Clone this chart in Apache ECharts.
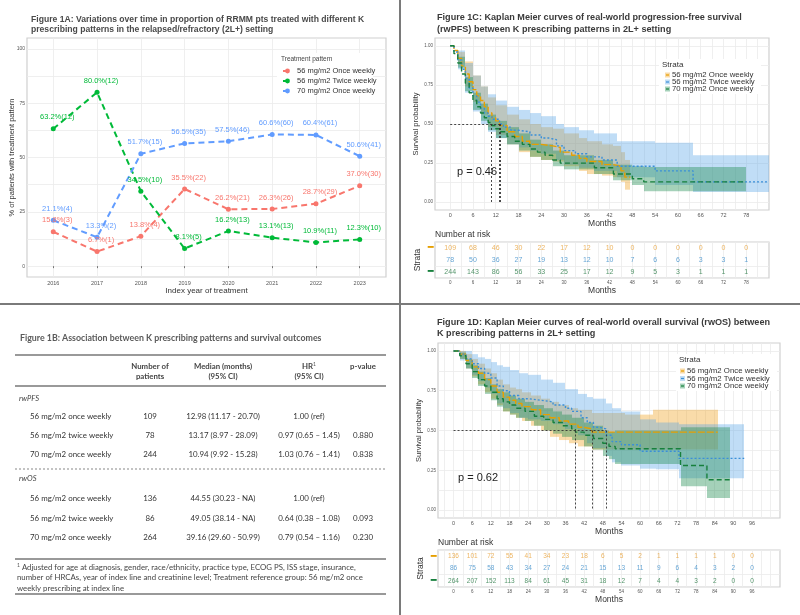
<!DOCTYPE html>
<html>
<head>
<meta charset="utf-8">
<script src="https://cdn.jsdelivr.net/npm/echarts@6/dist/echarts.min.js"></script>
<style>
  html, body { margin: 0; padding: 0; background: #fff; }
  #chart { width: 800px; height: 615px; }
</style>
</head>
<body>
<div id="chart"></div>
<script>
// ---------- Figure 1A data ----------
var years = [2016, 2017, 2018, 2019, 2020, 2021, 2022, 2023];
var pctTicks = [0, 25, 50, 75, 100];
var pctMinor = [0, 12.5, 25, 37.5, 50, 62.5, 75, 87.5, 100];
var patternNames = ['56 mg/m2 Once weekly', '56 mg/m2 Twice weekly', '70 mg/m2 Once weekly'];
var once56Pct = [15.8, 6.7, 13.8, 35.5, 26.2, 26.3, 28.7, 37.0];
var once56N = [3, 1, 4, 22, 21, 26, 29, 30];
var twice56Pct = [63.2, 80.0, 34.5, 8.1, 16.2, 13.1, 10.9, 12.3];
var twice56N = [12, 12, 10, 5, 13, 13, 11, 10];
var once70Pct = [21.1, 13.3, 51.7, 56.5, 57.5, 60.6, 60.4, 50.6];
var once70N = [4, 2, 15, 35, 46, 60, 61, 41];

// ---------- Figure 1B table ----------
var tableHead = [['Number of', 'patients'], ['Median (months)', '(95% CI)'], ['HR{sup|1}', '(95% CI)'], ['p-value', '']];
var pfsRows = [
  ['56 mg/m2 once weekly', '109', '12.98 (11.17 - 20.70)', '1.00 (ref)', ''],
  ['56 mg/m2 twice weekly', '78', '13.17 (8.97 - 28.09)', '0.97 (0.65 \u2013 1.45)', '0.880'],
  ['70 mg/m2 once weekly', '244', '10.94 (9.92 - 15.28)', '1.03 (0.76 \u2013 1.41)', '0.838']
];
var osRows = [
  ['56 mg/m2 once weekly', '136', '44.55 (30.23 - NA)', '1.00 (ref)', ''],
  ['56 mg/m2 twice weekly', '86', '49.05 (38.14 - NA)', '0.64 (0.38 \u2013 1.08)', '0.093'],
  ['70 mg/m2 once weekly', '264', '39.16 (29.60 - 50.99)', '0.79 (0.54 \u2013 1.16)', '0.230']
];
var footnote = [
  '{sup|1} Adjusted for age at diagnosis, gender, race/ethnicity, practice type, ECOG PS, ISS stage, insurance,',
  'number of HRCAs, year of index line and creatinine level; Treatment reference group: 56 mg/m2 once',
  'weekly prescribing at index line'
];

// ---------- Figure 1C (rwPFS) ----------
var survTicks = [0, 0.25, 0.5, 0.75, 1];
var survMinor = [0, 0.125, 0.25, 0.375, 0.5, 0.625, 0.75, 0.875, 1];
var pfsTicks = [0, 6, 12, 18, 24, 30, 36, 42, 48, 54, 60, 66, 72, 78];
var pfsMinor = [0, 3, 6, 9, 12, 15, 18, 21, 24, 27, 30, 33, 36, 39, 42, 45, 48, 51, 54, 57, 60, 63, 66, 69, 72, 75, 78, 81];
var pfsOnce56 = [[0, 1], [1, 0.97], [2, 0.92], [3, 0.87], [4, 0.82], [5, 0.77], [6, 0.72], [7, 0.68], [8, 0.65], [9, 0.61],
  [10, 0.57], [11, 0.54], [12, 0.52], [13, 0.49], [15, 0.45], [17, 0.42], [19, 0.39], [21, 0.37], [24, 0.36], [27, 0.35],
  [29, 0.32], [32, 0.30], [34, 0.28], [36, 0.26], [40, 0.24], [43, 0.23], [45, 0.20], [46, 0.16], [47.5, 0.16]];
var pfsTwice56 = [[0, 1], [1, 0.96], [2, 0.91], [3, 0.85], [4, 0.79], [5, 0.73], [6, 0.68], [7, 0.64], [8, 0.60], [9, 0.57],
  [10, 0.55], [11, 0.53], [13, 0.50], [14, 0.48], [16, 0.46], [18, 0.45], [21, 0.43], [24, 0.41], [26, 0.40], [28, 0.36],
  [30, 0.33], [33, 0.31], [36, 0.29], [40, 0.27], [44, 0.23], [54, 0.20], [64, 0.13], [84, 0.13]];
var pfsOnce70 = [[0, 1], [1, 0.95], [2, 0.89], [3, 0.82], [4, 0.76], [5, 0.70], [6, 0.65], [7, 0.61], [8, 0.57], [9, 0.54],
  [10, 0.51], [11, 0.49], [12, 0.47], [13, 0.45], [15, 0.42], [17, 0.39], [19, 0.37], [21, 0.34], [23, 0.32], [25, 0.30],
  [27, 0.27], [29, 0.25], [38, 0.22], [43, 0.18], [48, 0.15], [51, 0.13], [78, 0.13]];
// confidence bands: [time, lower, upper], last step runs to the band end
var pfsOnce56Band = [[0, 1, 1], [2, 0.88, 0.96], [4, 0.74, 0.90], [6, 0.64, 0.81], [8, 0.56, 0.74], [10, 0.48, 0.67],
  [12, 0.43, 0.62], [15, 0.37, 0.56], [18, 0.32, 0.53], [21, 0.29, 0.50], [24, 0.27, 0.48], [27, 0.26, 0.47],
  [30, 0.23, 0.44], [34, 0.20, 0.41], [36, 0.18, 0.39], [40, 0.17, 0.37], [43, 0.16, 0.36], [45, 0.13, 0.32], [46, 0.08, 0.27]];
var pfsTwice56Band = [[0, 1, 1], [2, 0.85, 0.97], [4, 0.70, 0.89], [6, 0.58, 0.81], [8, 0.50, 0.74], [10, 0.45, 0.69],
  [12, 0.41, 0.65], [15, 0.37, 0.61], [18, 0.35, 0.59], [21, 0.33, 0.57], [24, 0.31, 0.55], [28, 0.27, 0.50],
  [30, 0.24, 0.48], [34, 0.22, 0.46], [38, 0.20, 0.44], [44, 0.16, 0.39], [54, 0.11, 0.38], [64, 0.065, 0.30]];
var pfsOnce70Band = [[0, 1, 1], [2, 0.86, 0.93], [4, 0.71, 0.80], [6, 0.59, 0.70], [8, 0.52, 0.63], [10, 0.46, 0.56],
  [12, 0.41, 0.52], [15, 0.37, 0.48], [18, 0.33, 0.44], [21, 0.29, 0.40], [24, 0.27, 0.37], [27, 0.23, 0.33],
  [30, 0.21, 0.30], [38, 0.18, 0.27], [43, 0.14, 0.24], [48, 0.11, 0.23], [51, 0.07, 0.225]];
var pfsBandEnd = [47.5, 84, 78];
var pfsMedians = [12.98, 13.17, 10.94];
var pfsRiskOnce56 = [109, 68, 46, 30, 22, 17, 12, 10, 0, 0, 0, 0, 0, 0];
var pfsRiskTwice56 = [78, 50, 36, 27, 19, 13, 12, 10, 7, 6, 6, 3, 3, 1];
var pfsRiskOnce70 = [244, 143, 86, 56, 33, 25, 17, 12, 9, 5, 3, 1, 1, 1];

// ---------- Figure 1D (rwOS) ----------
var osTicks = [0, 6, 12, 18, 24, 30, 36, 42, 48, 54, 60, 66, 72, 78, 84, 90, 96];
var osMinor = [-3, 0, 3, 6, 9, 12, 15, 18, 21, 24, 27, 30, 33, 36, 39, 42, 45, 48, 51, 54, 57, 60, 63, 66, 69, 72, 75, 78, 81, 84, 87, 90, 93, 96, 99, 102];
var osOnce56 = [[0, 1], [2, 0.98], [4, 0.94], [6, 0.90], [8, 0.86], [10, 0.82], [12, 0.78], [14, 0.74], [16, 0.71], [18, 0.69],
  [20, 0.67], [22, 0.65], [25, 0.63], [28, 0.60], [31, 0.58], [34, 0.56], [37, 0.54], [40, 0.52], [42, 0.51], [44.5, 0.49], [85, 0.49]];
var osTwice56 = [[0, 1], [2, 0.98], [4, 0.95], [6, 0.92], [8, 0.89], [10, 0.86], [12, 0.83], [14, 0.78], [16, 0.75], [18, 0.72],
  [21, 0.70], [24, 0.69], [28, 0.68], [32, 0.66], [36, 0.64], [38, 0.62], [41, 0.58], [43, 0.55], [45, 0.52], [47, 0.51],
  [49, 0.47], [51, 0.43], [54, 0.41], [60, 0.37], [72.5, 0.325], [93.5, 0.325]];
var osOnce70 = [[0, 1], [2, 0.97], [4, 0.92], [6, 0.87], [8, 0.82], [10, 0.78], [12, 0.74], [14, 0.70], [16, 0.68], [18, 0.66],
  [20, 0.64], [23, 0.62], [26, 0.59], [29, 0.57], [32, 0.55], [35, 0.53], [38, 0.51], [39.2, 0.49], [42, 0.47], [45, 0.45],
  [48, 0.42], [50, 0.40], [52, 0.385], [73, 0.28], [81.5, 0.19], [89, 0.19]];
var osOnce56Band = [[0, 1, 1], [2, 0.95, 1], [4, 0.89, 0.98], [6, 0.84, 0.95], [8, 0.79, 0.92], [10, 0.74, 0.89],
  [12, 0.70, 0.86], [14, 0.66, 0.82], [16, 0.62, 0.79], [18, 0.60, 0.77], [20, 0.58, 0.76], [22, 0.56, 0.74],
  [25, 0.53, 0.72], [28, 0.50, 0.70], [31, 0.46, 0.68], [34, 0.44, 0.66], [37, 0.42, 0.64], [40, 0.40, 0.63],
  [44.5, 0.38, 0.61], [55, 0.38, 0.60], [64, 0.38, 0.63]];
var osTwice56Band = [[0, 1, 1], [2, 0.94, 1], [4, 0.89, 1], [6, 0.85, 0.98], [8, 0.81, 0.96], [10, 0.77, 0.95],
  [12, 0.73, 0.93], [14, 0.67, 0.91], [16, 0.64, 0.90], [18, 0.61, 0.88], [21, 0.58, 0.86], [24, 0.57, 0.85],
  [28, 0.56, 0.82], [32, 0.54, 0.80], [36, 0.51, 0.76], [40, 0.47, 0.73], [43, 0.42, 0.71], [45, 0.39, 0.70],
  [49, 0.34, 0.67], [51, 0.30, 0.64], [54, 0.28, 0.62], [60, 0.26, 0.57], [65, 0.256, 0.55], [72.5, 0.20, 0.54]];
var osOnce70Band = [[0, 1, 1], [2, 0.95, 0.99], [4, 0.89, 0.95], [6, 0.83, 0.91], [8, 0.78, 0.87], [10, 0.73, 0.83],
  [12, 0.69, 0.79], [14, 0.65, 0.76], [16, 0.62, 0.74], [18, 0.60, 0.72], [20, 0.58, 0.70], [23, 0.56, 0.68],
  [26, 0.53, 0.66], [29, 0.50, 0.64], [32, 0.48, 0.62], [35, 0.46, 0.60], [38, 0.44, 0.58], [42, 0.40, 0.55],
  [45, 0.38, 0.53], [48, 0.34, 0.50], [50, 0.32, 0.49], [52, 0.29, 0.50], [73, 0.15, 0.52], [81.5, 0.075, 0.52]];
var osBandEnd = [85, 93.5, 89];
var osMedians = [44.55, 49.05, 39.16];
var osRiskOnce56 = [136, 101, 72, 55, 41, 34, 23, 18, 6, 5, 2, 1, 1, 1, 1, 0, 0];
var osRiskTwice56 = [86, 75, 58, 43, 34, 27, 24, 21, 15, 13, 11, 9, 6, 4, 3, 2, 0];
var osRiskOnce70 = [264, 207, 152, 113, 84, 61, 45, 31, 18, 12, 7, 4, 4, 3, 2, 0, 0];

// ---------- styling ----------
var FONT = '"Liberation Sans", Arial, sans-serif';
var TFONT = 'Lato, "Liberation Sans", sans-serif';
var patColors = ['#F8766D', '#00BA38', '#619CFF'];
var kmLine = ['#E69F00', '#3A8FD8', '#17803D'];
var kmFill = ['rgba(240,160,30,0.38)', 'rgba(80,160,230,0.36)', 'rgba(30,140,80,0.40)'];
var kmText = ['#E9A23B', '#3F8FCB', '#2B7C47'];
var kmDash = [[7, 2], [2, 2], [5, 3]];
var gridColor = '#ebebeb';

var chart = echarts.init(document.getElementById('chart'));

function pctSeries(i, pct, n) {
  return {
    name: patternNames[i], type: 'line', xAxisIndex: 0, yAxisIndex: 0,
    data: years.map(function (y, k) { return [y, pct[k], n[k]]; }),
    symbol: 'circle', symbolSize: 5,
    itemStyle: { color: patColors[i] },
    lineStyle: { color: patColors[i], width: 2, type: [6, 4] },
    label: {
      show: true, position: 'top', distance: 5, offset: [4, 0],
      fontSize: 7.5, fontFamily: FONT, color: patColors[i],
      formatter: function (p) { return p.value[1].toFixed(1) + '%(' + p.value[2] + ')'; }
    },
    silent: true
  };
}

function bandSeries(band, end, color, gi) {
  var rows = band.map(function (b, k) {
    return [b[0], k + 1 < band.length ? band[k + 1][0] : end, b[1], b[2]];
  });
  return {
    type: 'custom', xAxisIndex: gi, yAxisIndex: gi, data: rows, silent: true,
    encode: { x: [0, 1], y: [2, 3] },
    renderItem: function (params, api) {
      var a = api.coord([api.value(0), api.value(3)]);
      var b = api.coord([api.value(1), api.value(2)]);
      var x0 = Math.round(a[0]), x1 = Math.round(b[0]);
      return { type: 'rect', shape: { x: x0, y: a[1], width: x1 - x0, height: b[1] - a[1] }, style: { fill: color } };
    }
  };
}

function stepSeries(curve, k, gi, medians) {
  var s = {
    type: 'line', step: 'end', xAxisIndex: gi, yAxisIndex: gi, data: curve,
    symbol: 'none', silent: true,
    lineStyle: { color: kmLine[k], width: 1.4, type: kmDash[k] },
    itemStyle: { color: kmLine[k] }
  };
  if (medians) {
    var lines = [[{ coord: [0, 0.5] }, { coord: [Math.max.apply(null, medians), 0.5] }]];
    medians.forEach(function (m) { lines.push([{ coord: [m, 0.5] }, { coord: [m, 0] }]); });
    s.markLine = {
      silent: true, symbol: ['none', 'none'], label: { show: false },
      lineStyle: { color: '#333', width: 0.9, type: [2, 2] }, data: lines
    };
  }
  return s;
}

function riskSeries(times, counts, row, gi, size) {
  return {
    type: 'scatter', xAxisIndex: gi, yAxisIndex: gi, silent: true,
    data: times.map(function (t, k) { return [t, row, counts[k]]; }),
    symbolSize: 1, itemStyle: { color: 'rgba(0,0,0,0)' },
    label: {
      show: true, position: 'inside', fontSize: size, fontFamily: FONT, color: kmText[row],
      formatter: function (p) { return String(p.value[2]); }
    }
  };
}

function kmXAxis(gi, min, max, ticks, minor, withLabels) {
  return {
    gridIndex: gi, type: 'value', min: min, max: max,
    axisLine: { show: false },
    axisTick: { show: false, customValues: minor },
    axisLabel: { customValues: ticks, fontSize: withLabels ? 5.5 : 4.5, color: '#555', fontFamily: FONT, margin: 2.5 },
    splitLine: { lineStyle: { color: gridColor, width: 0.8 } },
    name: 'Months', nameLocation: 'middle', nameGap: 8,
    nameTextStyle: { fontSize: 8.5, color: '#333', fontFamily: FONT }
  };
}

function kmYAxis(gi) {
  return {
    gridIndex: gi, type: 'value', min: -0.05, max: 1.05,
    axisLine: { show: false },
    axisTick: { show: false, customValues: survMinor },
    axisLabel: {
      customValues: survTicks, fontSize: 4.5, color: '#555', fontFamily: FONT, margin: 2,
      formatter: function (v) { return v.toFixed(2); }
    },
    splitLine: { lineStyle: { color: gridColor, width: 0.8 } },
    name: 'Survival probability', nameLocation: 'middle', nameGap: 12,
    nameTextStyle: { fontSize: 7.5, color: '#333', fontFamily: FONT }
  };
}

function riskYAxis(gi) {
  return {
    gridIndex: gi, type: 'category', data: ['a', 'b', 'c'], inverse: true,
    axisLine: { show: false }, axisTick: { show: false },
    axisLabel: {
      margin: 2,
      formatter: function (v, i) { return '{r' + i + '|\u2501}'; },
      rich: {
        r0: { color: kmLine[0], fontSize: 9, fontWeight: 'bold' },
        r1: { color: kmLine[1], fontSize: 9, fontWeight: 'bold' },
        r2: { color: kmLine[2], fontSize: 9, fontWeight: 'bold' }
      }
    },
    splitLine: { show: true, lineStyle: { color: gridColor, width: 0.8 } },
    name: 'Strata', nameLocation: 'middle', nameGap: 13,
    nameTextStyle: { fontSize: 8.5, color: '#333', fontFamily: FONT }
  };
}

// ---------- graphic: titles, table, legends, dividers ----------
var g = [];
function txt(x, y, text, size, opts) {
  opts = opts || {};
  g.push({
    type: 'text', x: x, y: y, silent: true, z: 20,
    style: {
      text: text, fill: opts.color || '#333', align: opts.align || 'left', verticalAlign: 'middle',
      fontSize: size, fontWeight: opts.bold ? 'bold' : 'normal', fontStyle: opts.italic ? 'italic' : 'normal',
      fontFamily: opts.font || FONT, rich: opts.rich
    }
  });
}
function rule(x1, y1, x2, y2, w, color, dash) {
  g.push({ type: 'line', silent: true, z: 20, shape: { x1: x1, y1: y1, x2: x2, y2: y2 },
    style: { stroke: color || '#777', lineWidth: w, lineDash: dash || null } });
}
function box(x, y, w, h, fill) {
  g.push({ type: 'rect', silent: true, z: 19, shape: { x: x, y: y, width: w, height: h }, style: { fill: fill } });
}
function kmKey(x, ys) {
  ys.forEach(function (y, k) {
    box(x, y - 2.5, 5, 5, kmFill[k]);
    rule(x + 1, y, x + 4, y, 1.2, kmLine[k]);
    txt(x + 7, y, patternNames[k], 7.8, { color: '#333' });
  });
}

// panel dividers
rule(400, 0, 400, 615, 2, '#7a7a7a');
rule(0, 304, 800, 304, 2, '#7a7a7a');

// figure titles
txt(31, 20, 'Figure 1A: Variations over time in proportion of RRMM pts treated with different K', 8.6, { bold: true, color: '#4a4a4a' });
txt(31, 30, 'prescribing patterns in the relapsed/refractory (2L+) setting', 8.6, { bold: true, color: '#4a4a4a' });
txt(437, 17, 'Figure 1C: Kaplan Meier curves of real-world progression-free survival', 9.1, { bold: true, color: '#3a3a3a' });
txt(437, 29, '(rwPFS) between K prescribing patterns in 2L+ setting', 9.1, { bold: true, color: '#3a3a3a' });
txt(437, 322, 'Figure 1D: Kaplan Meier curves of real-world overall survival (rwOS) between', 9.1, { bold: true, color: '#3a3a3a' });
txt(437, 333, 'K prescribing patterns in 2L+ setting', 9.1, { bold: true, color: '#3a3a3a' });

// legend backgrounds, titles and keys, p-values, risk-table titles
box(277, 53, 96, 43, '#fff');
txt(281, 59, 'Treatment pattern', 6.5, { color: '#444' });
box(659, 59, 102, 35, '#fff');
txt(662, 65, 'Strata', 8, { color: '#333' });
kmKey(665, [75, 82, 89]);
box(676, 354, 101, 37, '#fff');
txt(679, 360, 'Strata', 8, { color: '#333' });
kmKey(680, [371, 378.5, 386]);
txt(457, 172, 'p = 0.46', 11, { color: '#222' });
txt(458, 478, 'p = 0.62', 11, { color: '#222' });
txt(435, 235, 'Number at risk', 8.5, { color: '#333' });
txt(438, 543, 'Number at risk', 8.5, { color: '#333' });

// Figure 1B table
var tcx = [150, 223, 309, 363];
var supRich = { sup: { fontSize: 5, verticalAlign: 'top', padding: [0, 0, 4, 0], fill: '#555', fontFamily: TFONT } };
txt(20, 338, 'Figure 1B: Association between K prescribing patterns and survival outcomes', 8.8, { font: TFONT, bold: true, color: '#5a5a5a' });
rule(15, 355, 386, 355, 1.6, '#777');
tableHead.forEach(function (h, k) {
  txt(tcx[k], 366, h[0], 7.8, { font: TFONT, bold: true, align: 'center', color: '#444', rich: supRich });
  if (h[1]) txt(tcx[k], 376, h[1], 7.8, { font: TFONT, bold: true, align: 'center', color: '#444' });
});
rule(15, 386, 386, 386, 1.4, '#777');
function tableBlock(label, labelY, rows, rowYs) {
  txt(19, labelY, label, 7.6, { font: TFONT, italic: true, color: '#444' });
  rows.forEach(function (r, i) {
    txt(30, rowYs[i], r[0], 7.9, { font: TFONT, color: '#333' });
    for (var k = 1; k < 5; k++) {
      if (r[k]) txt(tcx[k - 1], rowYs[i], r[k], 7.9, { font: TFONT, align: 'center', color: '#333' });
    }
  });
}
tableBlock('rwPFS', 399, pfsRows, [416, 435, 454]);
rule(15, 469, 386, 469, 1, '#888', [2, 2]);
tableBlock('rwOS', 479, osRows, [498, 518, 537]);
rule(15, 559, 386, 559, 1.4, '#777');
footnote.forEach(function (line, i) {
  txt(17, 567 + i * 10.5, line, 7.8, { font: TFONT, color: '#444', rich: supRich });
});
rule(15, 594, 386, 594, 1.4, '#777');

// ---------- option ----------
var option = {
  backgroundColor: '#fff',
  animation: false,
  textStyle: { fontFamily: FONT },
  grid: [
    { left: 27, top: 38, width: 359, height: 239, show: true, borderColor: '#d0d0d0', borderWidth: 1.2 },
    { left: 435, top: 38, width: 334, height: 172, show: true, borderColor: '#d0d0d0', borderWidth: 1.2 },
    { left: 435, top: 242, width: 334, height: 36, show: true, borderColor: '#d0d0d0', borderWidth: 1.2 },
    { left: 438, top: 343, width: 342, height: 175, show: true, borderColor: '#d0d0d0', borderWidth: 1.2 },
    { left: 438, top: 550, width: 342, height: 37, show: true, borderColor: '#d0d0d0', borderWidth: 1.2 }
  ],
  xAxis: [
    {
      gridIndex: 0, type: 'value', min: 2015.4, max: 2023.6,
      axisLine: { show: false },
      axisTick: { customValues: years, length: 2, lineStyle: { color: '#777' } },
      axisLabel: { customValues: years, fontSize: 5.5, color: '#555', margin: 3, formatter: function (v) { return String(v); } },
      splitLine: { lineStyle: { color: gridColor, width: 0.8 } },
      name: 'Index year of treatment', nameLocation: 'middle', nameGap: 8.5,
      nameTextStyle: { fontSize: 8, color: '#333' }
    },
    kmXAxis(1, -4, 84, pfsTicks, pfsMinor, true),
    kmXAxis(2, -4, 84, pfsTicks, pfsMinor, false),
    kmXAxis(3, -5, 105, osTicks, osMinor, true),
    kmXAxis(4, -5, 105, osTicks, osMinor, false)
  ],
  yAxis: [
    {
      gridIndex: 0, type: 'value', min: -5, max: 105,
      axisLine: { show: false },
      axisTick: { show: false, customValues: pctMinor },
      axisLabel: { customValues: pctTicks, fontSize: 5, color: '#555', margin: 2 },
      splitLine: { lineStyle: { color: gridColor, width: 0.8 } },
      name: '% of patients with treatment pattern', nameLocation: 'middle', nameGap: 11,
      nameMoveOverlap: false,
      nameTextStyle: { fontSize: 7.5, color: '#333' }
    },
    kmYAxis(1),
    riskYAxis(2),
    kmYAxis(3),
    riskYAxis(4)
  ],
  legend: [
    {
      data: patternNames, left: 277, top: 62, orient: 'vertical', z: 25,
      itemWidth: 9, itemHeight: 6, itemGap: 2,
      textStyle: { fontSize: 7.5, color: '#333', lineHeight: 8, fontFamily: FONT }
    }
  ],
  graphic: g,
  series: [
    pctSeries(0, once56Pct, once56N),
    pctSeries(1, twice56Pct, twice56N),
    pctSeries(2, once70Pct, once70N),

    bandSeries(pfsOnce56Band, pfsBandEnd[0], kmFill[0], 1),
    bandSeries(pfsTwice56Band, pfsBandEnd[1], kmFill[1], 1),
    bandSeries(pfsOnce70Band, pfsBandEnd[2], kmFill[2], 1),
    stepSeries(pfsOnce56, 0, 1, pfsMedians),
    stepSeries(pfsTwice56, 1, 1),
    stepSeries(pfsOnce70, 2, 1),
    riskSeries(pfsTicks, pfsRiskOnce56, 0, 2, 7),
    riskSeries(pfsTicks, pfsRiskTwice56, 1, 2, 7),
    riskSeries(pfsTicks, pfsRiskOnce70, 2, 2, 7),

    bandSeries(osOnce56Band, osBandEnd[0], kmFill[0], 3),
    bandSeries(osTwice56Band, osBandEnd[1], kmFill[1], 3),
    bandSeries(osOnce70Band, osBandEnd[2], kmFill[2], 3),
    stepSeries(osOnce56, 0, 3, osMedians),
    stepSeries(osTwice56, 1, 3),
    stepSeries(osOnce70, 2, 3),
    riskSeries(osTicks, osRiskOnce56, 0, 4, 6.5),
    riskSeries(osTicks, osRiskTwice56, 1, 4, 6.5),
    riskSeries(osTicks, osRiskOnce70, 2, 4, 6.5)
  ]
};

chart.setOption(option);
window.addEventListener('resize', function () { chart.resize(); });
</script>
</body>
</html>
